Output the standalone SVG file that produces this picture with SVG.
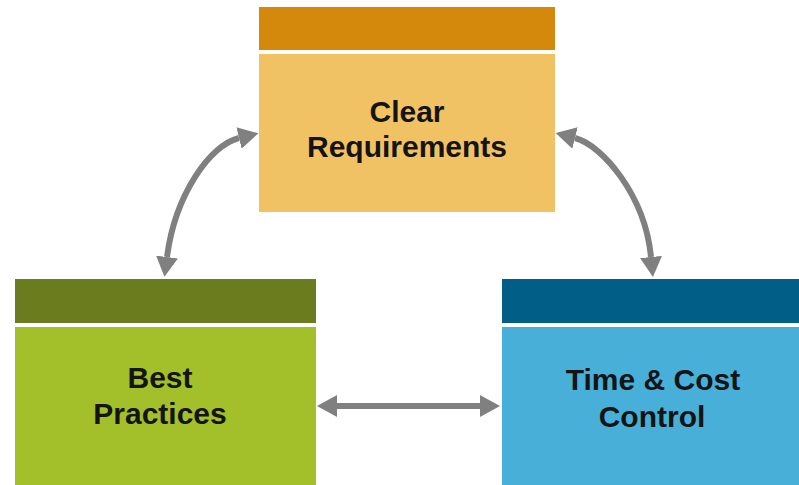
<svg xmlns="http://www.w3.org/2000/svg" width="799" height="485" viewBox="0 0 799 485">
<style>
.lbl{font-family:"Liberation Sans",Arial,sans-serif;font-weight:bold;font-size:30px;fill:#141414;text-anchor:middle}
.conn{fill:none;stroke:#808080;stroke-width:6}
</style>
<defs>
<marker id="ah" markerUnits="userSpaceOnUse" viewBox="0 0 20 22" markerWidth="20" markerHeight="22" refX="0" refY="11" orient="auto-start-reverse">
<path d="M0,0 L20,11 L0,22 z" fill="#808080"/>
</marker>
</defs>
<rect width="799" height="485" fill="#ffffff"/>
<g id="node-clear-requirements">
<rect x="259" y="7" width="296" height="43" fill="#D4880C"/>
<rect x="259" y="54" width="296" height="158" fill="#F1C263"/>
<text class="lbl" x="407" y="122">Clear</text>
<text class="lbl" x="407" y="157">Requirements</text>
</g>
<g id="node-best-practices">
<rect x="15" y="279" width="301" height="44" fill="#6B7C1E"/>
<rect x="15" y="327" width="301" height="158" fill="#A3BF2A"/>
<text class="lbl" x="160" y="388">Best</text>
<text class="lbl" x="160" y="424">Practices</text>
</g>
<g id="node-time-cost">
<rect x="502" y="279" width="297" height="44" fill="#005E87"/>
<rect x="502" y="327" width="297" height="158" fill="#47AFD8"/>
<text class="lbl" x="653" y="390">Time &amp; Cost</text>
<text class="lbl" x="652" y="427">Control</text>
</g>
<g id="connectors">
<path class="conn" d="M239,138 C210,145 175,195 167,257" marker-start="url(#ah)" marker-end="url(#ah)"/>
<path class="conn" d="M575,138 C602,145 645,195 651,257" marker-start="url(#ah)" marker-end="url(#ah)"/>
<path class="conn" d="M337,406 L480,406" marker-start="url(#ah)" marker-end="url(#ah)"/>
</g>
</svg>
